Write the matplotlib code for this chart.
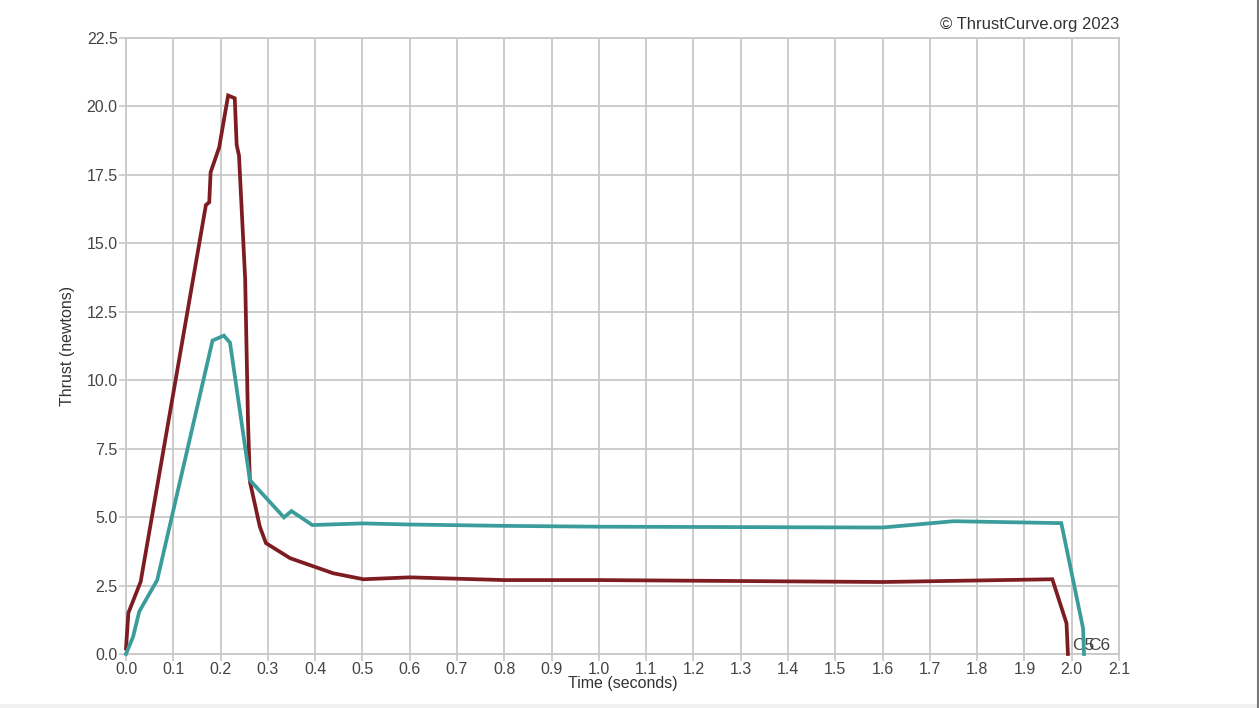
import numpy as np
import matplotlib
matplotlib.use("Agg")
import matplotlib.pyplot as plt

plt.rcParams['font.family'] = ['Liberation Sans', 'DejaVu Sans']

# C5 thrust curve (red)
c5_time = [0.0, 0.005, 0.031, 0.169, 0.176, 0.179, 0.197, 0.216, 0.230, 0.234, 0.239,
           0.252, 0.258, 0.262, 0.283, 0.296, 0.347, 0.438, 0.502, 0.600, 0.800,
           1.000, 1.600, 1.959, 1.989, 1.992]
c5_thrust = [0.2, 1.5, 2.64, 16.4, 16.5, 17.6, 18.5, 20.4, 20.3, 18.6, 18.2,
             13.7, 8.5, 6.3, 4.65, 4.05, 3.5, 2.95, 2.73, 2.8, 2.7,
             2.7, 2.63, 2.73, 1.12, 0.0]

# C6 thrust curve (teal)
c6_time = [0.0, 0.015, 0.028, 0.066, 0.183, 0.207, 0.220, 0.262, 0.334, 0.350,
           0.394, 0.500, 0.600, 0.800, 1.000, 1.600, 1.750, 1.978, 2.024, 2.026]
c6_thrust = [0.0, 0.63, 1.55, 2.7, 11.45, 11.63, 11.37, 6.35, 4.99, 5.22,
             4.71, 4.77, 4.73, 4.68, 4.65, 4.62, 4.85, 4.78, 0.94, 0.0]

names = ["C5", "C6"]
colors = ["#7d1d22", "#3a9d9b"]

x_ticks = np.round(np.arange(0, 2.11, 0.1), 1)
y_ticks = np.arange(0, 22.6, 2.5)

fig = plt.figure(figsize=(12.59, 7.08), dpi=100)
ax = fig.add_axes([126 / 1259, 1 - 654 / 708, (1119 - 126) / 1259, (654 - 38) / 708])

for t, f, c, n in zip([c5_time, c6_time], [c5_thrust, c6_thrust], colors, names):
    ax.plot(t, f, color=c, lw=2.7, solid_joinstyle='miter', zorder=3, clip_on=False)
    # labels overlap at the end, same as the original
    ax.annotate(n, (t[-1], f[-1]), xytext=(3, 1), textcoords='offset points',
                fontsize=12.5, color='#444444', ha='left', va='bottom')

ax.set_xlim(0, 2.1)
ax.set_ylim(0, 22.5)
ax.set_xticks(x_ticks)
ax.set_xticklabels([f"{v:.1f}" for v in x_ticks])
ax.set_yticks(y_ticks)
ax.set_yticklabels([f"{v:.1f}" for v in y_ticks])
ax.grid(True, color='#c8c8c8', lw=1.3, zorder=0)
for s in ax.spines.values():
    s.set_color('#c8c8c8')
    s.set_linewidth(1.3)
ax.tick_params(colors='#c8c8c8', labelcolor='#444444', labelsize=11.5, length=5, width=1.2, pad=1)

ax.set_xlabel("Time (seconds)", fontsize=11.5, color='#333333', labelpad=-1)
ax.set_ylabel("Thrust (newtons)", fontsize=11.5, color='#333333', labelpad=8)

fig.text(1119 / 1259, 1 - 24 / 708, "© ThrustCurve.org 2023", ha='right', va='center',
         fontsize=12, color='#333333')

# right border line + bottom strip
fig.add_artist(plt.Line2D([1257.5 / 1259] * 2, [0, 1], color='#777777', lw=1.5))
fig.add_artist(plt.Rectangle((0, 0), 1, 4 / 708, color='#f0f0f0', lw=0))

fig.savefig("out.png", dpi=100)
